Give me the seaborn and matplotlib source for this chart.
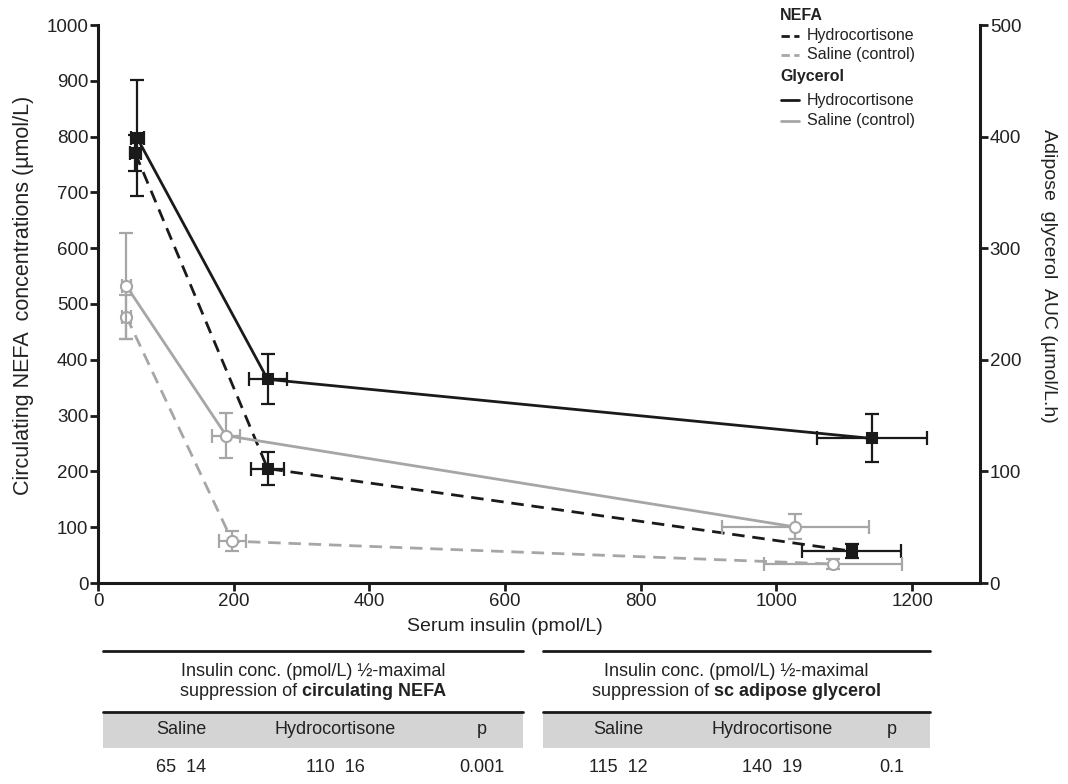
import matplotlib
matplotlib.use("Agg")
import matplotlib.pyplot as plt
from matplotlib.lines import Line2D
from matplotlib.patches import Rectangle
import seaborn as sns
import pandas as pd

# ---------------- data ----------------
nefa_hc_x = [55, 250, 1111]
nefa_hc_y = [770, 205, 57]
nefa_hc_yerr = [32, 29.5, 13]
nefa_hc_xerr = [8, 24, 73]

nefa_sal_x = [42, 198, 1083]
nefa_sal_y = [477, 75, 34]
nefa_sal_yerr = [39, 18, 9]
nefa_sal_xerr = [6, 20, 102]

gly_hc_x = [58, 250, 1141]
gly_hc_y = [398.5, 182.5, 129.5]
gly_hc_yerr = [52, 22.5, 21.5]
gly_hc_xerr = [10, 28, 81]

gly_sal_x = [42, 189, 1028]
gly_sal_y = [266, 132, 50.2]
gly_sal_yerr = [47.5, 20, 11.2]
gly_sal_xerr = [6, 21, 108]

left_ticks = [0, 100, 200, 300, 400, 500, 600, 700, 800, 900, 1000]
right_ticks = [0, 100, 200, 300, 400, 500]
x_ticks = [0, 200, 400, 600, 800, 1000, 1200]

table_cols = ["Saline", "Hydrocortisone", "p"]
nefa_table_vals = ["65  14", "110  16", "0.001"]
gly_table_vals = ["115  12", "140  19", "0.1"]

# ---------------- style ----------------
sns.set_theme(style="ticks")
plt.rcParams["font.family"] = ["Liberation Sans", "DejaVu Sans"]
BLACK = "#1a1a1a"
GRAY = "#a6a6a6"
TXT = "#222222"
TICK_FS = 13.5
LAB_FS = 14
LEG_FS = 11.5
TAB_FS = 13

W, H = 1068, 784
fig = plt.figure(figsize=(W / 100, H / 100), dpi=100)
ax = fig.add_axes([98 / W, 1 - 583 / H, (980 - 98) / W, (583 - 25) / H])
ax2 = ax.twinx()

def series(axis, xs, ys, xe, ye, color, ls, marker, mfc):
    df = pd.DataFrame({"x": xs, "y": ys})
    axis.errorbar(xs, ys, xerr=xe, yerr=ye, fmt="none", ecolor=color,
                  elinewidth=1.6, capsize=5, capthick=1.6, zorder=2)
    sns.lineplot(data=df, x="x", y="y", ax=axis, color=color, linestyle=ls,
                 linewidth=2.0, marker=marker, markersize=8 if marker == "o" else 7,
                 markerfacecolor=mfc, markeredgecolor=color, markeredgewidth=1.5,
                 sort=False, errorbar=None, zorder=3)
    if ls == "--":
        axis.get_lines()[-1].set_dashes((4.5, 2.8))

series(ax, nefa_hc_x, nefa_hc_y, nefa_hc_xerr, nefa_hc_yerr, BLACK, "--", "s", BLACK)
series(ax, nefa_sal_x, nefa_sal_y, nefa_sal_xerr, nefa_sal_yerr, GRAY, "--", "o", "white")
series(ax2, gly_hc_x, gly_hc_y, gly_hc_xerr, gly_hc_yerr, BLACK, "-", "s", BLACK)
series(ax2, gly_sal_x, gly_sal_y, gly_sal_xerr, gly_sal_yerr, GRAY, "-", "o", "white")

ax.set_xlim(0, 1300)
ax.set_ylim(0, 1000)
ax2.set_ylim(0, 500)
ax.set_xticks(x_ticks)
ax.set_yticks(left_ticks)
ax2.set_yticks(right_ticks)

for a in (ax, ax2):
    a.spines["top"].set_visible(False)
    for s in ("left", "right", "bottom"):
        a.spines[s].set_linewidth(2.2)
        a.spines[s].set_color(BLACK)
    a.tick_params(axis="both", direction="out", length=6, width=2, color=BLACK,
                  labelsize=TICK_FS, labelcolor=TXT, pad=1)
    a.set_xlabel("")
    a.set_ylabel("")
ax.spines["right"].set_visible(False)
ax2.spines["left"].set_visible(False)
ax2.spines["bottom"].set_visible(False)

ax.set_xlabel("Serum insulin (pmol/L)", fontsize=LAB_FS, color=TXT, labelpad=6)
ax.xaxis.label.set_x(0.461)
ax.set_ylabel("Circulating NEFA  concentrations (µmol/L)", fontsize=15.5, color=TXT,
              labelpad=9)
ax.yaxis.label.set_y(0.515)
ax2.set_ylabel("Adipose  glycerol  AUC (µmol/L.h)", fontsize=LAB_FS, color=TXT,
               rotation=270, labelpad=26)
ax2.yaxis.label.set_y(0.55)

# ---------------- legend (manual) ----------------
def fx(px):
    return px / W

def fy(py):
    return 1 - py / H

leg_rows = [
    ("NEFA", None, None),
    ("Hydrocortisone", BLACK, "--"),
    ("Saline (control)", GRAY, "--"),
    ("Glycerol", None, None),
    ("Hydrocortisone", BLACK, "-"),
    ("Saline (control)", GRAY, "-"),
]
leg_y = [15, 35.5, 55, 77, 100, 120.5]
for (lab, col, ls), yy in zip(leg_rows, leg_y):
    if col is None:
        fig.text(fx(780), fy(yy), lab, fontsize=LEG_FS, fontweight="bold", color=TXT,
                 ha="left", va="center")
    else:
        ln = Line2D([fx(781), fx(799)], [fy(yy), fy(yy)], transform=fig.transFigure,
                    color=col, linewidth=2.0, linestyle=ls)
        if ls == "--":
            ln.set_dashes((3.0, 1.6))
        fig.add_artist(ln)
        fig.text(fx(807), fy(yy), lab, fontsize=LEG_FS, color=TXT, ha="left", va="center")

# ---------------- tables ----------------
def draw_table(x0, x1, bold_part, col_x, vals):
    fig.add_artist(Line2D([fx(x0), fx(x1)], [fy(651), fy(651)], transform=fig.transFigure,
                          color=BLACK, linewidth=2.0))
    fig.add_artist(Rectangle((fx(x0), fy(748)), fx(x1) - fx(x0), fy(711.5) - fy(748),
                             transform=fig.transFigure, facecolor="#d4d4d4",
                             edgecolor="none"))
    fig.add_artist(Line2D([fx(x0), fx(x1)], [fy(711.5), fy(711.5)], transform=fig.transFigure,
                          color=BLACK, linewidth=2.0))
    cx = (x0 + x1) / 2
    fig.text(fx(cx), fy(671), "Insulin conc. (pmol/L) ½-maximal", fontsize=TAB_FS,
             color=TXT, ha="center", va="center")
    r = fig.canvas.get_renderer()
    a_ = fig.text(0, 0, "suppression of ", fontsize=TAB_FS)
    b_ = fig.text(0, 0, bold_part, fontsize=TAB_FS, fontweight="bold")
    wa = a_.get_window_extent(r).width
    wb = b_.get_window_extent(r).width
    a_.remove(); b_.remove()
    start = cx - (wa + wb) / 2
    fig.text(fx(start), fy(692), "suppression of ", fontsize=TAB_FS, color=TXT,
             ha="left", va="center")
    fig.text(fx(start + wa), fy(692), bold_part, fontsize=TAB_FS, fontweight="bold",
             color=TXT, ha="left", va="center")
    for c, xx in zip(table_cols, col_x):
        fig.text(fx(xx), fy(730), c, fontsize=TAB_FS, color=TXT, ha="center", va="center")
    for v, xx in zip(vals, col_x):
        fig.text(fx(xx), fy(767), v, fontsize=TAB_FS, color=TXT, ha="center", va="center")

draw_table(103, 523, "circulating NEFA", [181, 335, 482], nefa_table_vals)
draw_table(543, 930, "sc adipose glycerol", [618, 772, 892], gly_table_vals)

fig.savefig("out.png", dpi=100)
